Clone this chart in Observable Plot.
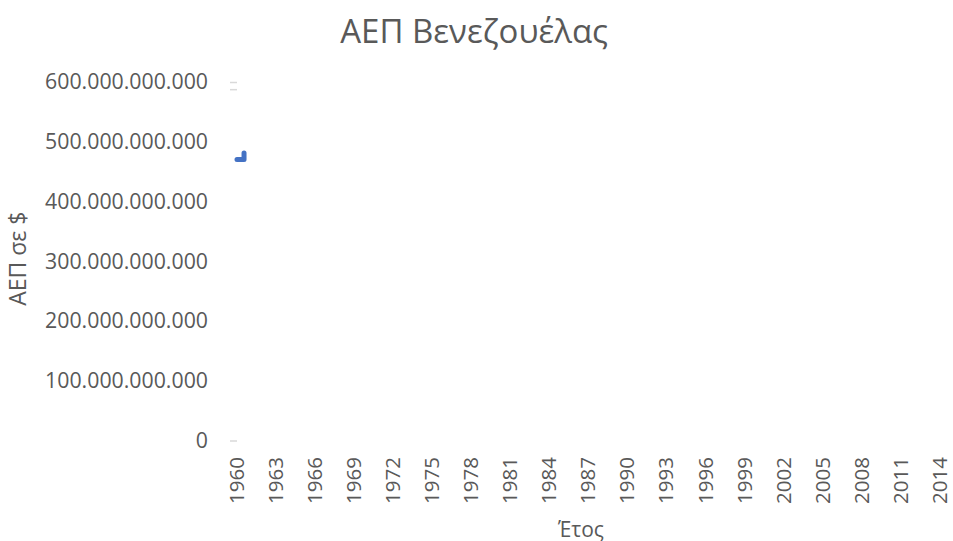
<!DOCTYPE html>
<html>
<head>
<meta charset="utf-8">
<script src="https://cdn.jsdelivr.net/npm/d3@7"></script>
<script src="https://cdn.jsdelivr.net/npm/@observablehq/plot@0.6"></script>
<style>
  html, body { margin: 0; padding: 0; background: #fff; }
  #chart svg { display: block; }
</style>
</head>
<body>
<div id="chart"></div>
<script>
// ---- data ----
const title = "ΑΕΠ Βενεζουέλας";
const xLabel = "Έτος";
const yLabel = "ΑΕΠ σε $";
const tickYears = d3.range(1960, 2015, 3);              // 1960, 1963, ... 2014
const yTicks = [0, 100e9, 200e9, 300e9, 400e9, 500e9, 600e9];
// visible line trace (year, GDP in $)
const lineYears = [1960, 1960.54, 1960.54];
const lineValues = [471e9, 471e9, 482e9];
// short gridline stubs visible in the picture
const gridValues = [0, 588e9, 600e9];
const gridSpan = [1959.5, 1960.04];
// anchor years for the centred texts
const titleYear = 1978.2;
const xLabelYear = 1986.4;

const line = lineYears.map((x, i) => ({x, y: lineValues[i]}));
const locale = d3.formatLocale({decimal: ",", thousands: ".", grouping: [3], currency: ["", "$"]});
const fmt = locale.format(",");

const textColor = "#595959";
const font = "'Open Sans', sans-serif";

const chart = Plot.plot({
  width: 953,
  height: 541,
  marginTop: 82,
  marginBottom: 100.5,
  marginLeft: 236.5,
  marginRight: 13,
  style: {fontFamily: font, color: textColor, background: "#fff", overflow: "visible"},
  x: {domain: [1960, 2014], label: null},
  y: {domain: [0, 600e9], label: null},
  marks: [
    Plot.ruleY(gridValues, {x1: gridSpan[0], x2: gridSpan[1], stroke: "#d9d9d9", strokeWidth: 1.5, clip: false}),
    Plot.axisY(yTicks, {tickSize: 0, tickPadding: 29, tickFormat: fmt, fontSize: 21.3, fill: textColor, label: null}),
    Plot.axisX(tickYears, {tickSize: 0, tickRotate: -90, tickPadding: 16, tickFormat: d => String(d), fontSize: 20.5, fill: textColor, label: null}),
    Plot.line(line, {x: "x", y: "y", stroke: "#4472C4", strokeWidth: 5, strokeLinecap: "round", strokeLinejoin: "round"}),
    Plot.text([yLabel], {frameAnchor: "left", dx: -218.5, dy: -3, rotate: -90, textAnchor: "middle", fontSize: 23, fill: textColor, text: d => d, lineAnchor: "middle"}),
    Plot.text([xLabel], {frameAnchor: "bottom", x: () => xLabelYear, dy: 89, fontSize: 21, fill: textColor, text: d => d, lineAnchor: "middle"}),
    Plot.text([title], {frameAnchor: "top", x: () => titleYear, dy: -50, fontSize: 33, fill: textColor, text: d => d, lineAnchor: "middle"})
  ]
});
document.getElementById("chart").appendChild(chart);
</script>
</body>
</html>
